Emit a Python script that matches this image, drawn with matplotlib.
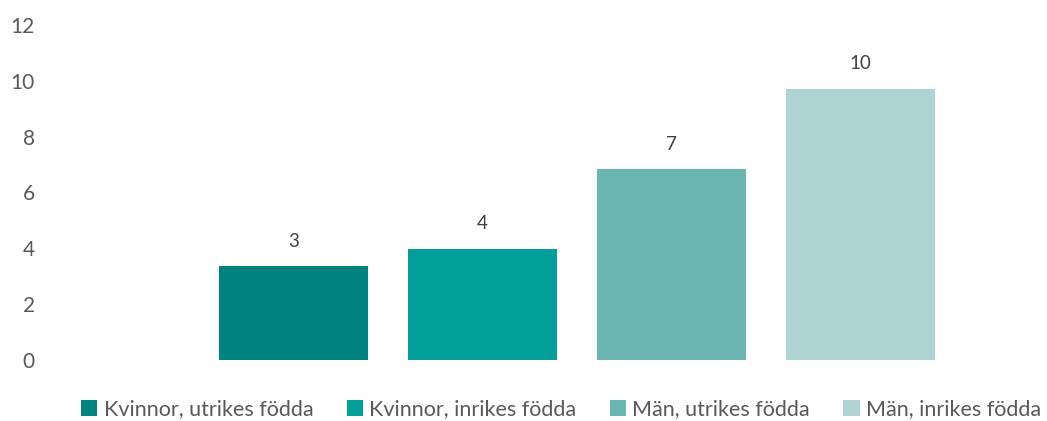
import matplotlib.pyplot as plt

# data
series = ["Kvinnor, utrikes födda", "Kvinnor, inrikes födda",
          "Män, utrikes födda", "Män, inrikes födda"]
values = [3.36, 3.98, 6.83, 9.72]
value_labels = ["3", "4", "7", "10"]
colors = ["#00827F", "#029E9A", "#6BB5B3", "#AED3D3"]
y_ticks = [0, 2, 4, 6, 8, 10, 12]

TEXT = "#595959"
plt.rcParams["font.family"] = ["Lato", "DejaVu Sans"]

fig = plt.figure(figsize=(10.47, 4.21), dpi=100)
ax = fig.add_axes([50 / 1047, 61 / 421, 990 / 1047, 335 / 421])

x = list(range(len(values)))
bars = ax.bar(x, values, width=149 / 189, color=colors, label=series)

for b, lab in zip(bars, value_labels):
    ax.annotate(lab, (b.get_x() + b.get_width() / 2, b.get_height()),
                xytext=(0, 12), textcoords="offset points",
                ha="center", va="bottom", fontsize=13.5, color="#404040")

ax.set_xlim(-1.288, -1.288 + 990 / 189)
ax.set_ylim(0, 12)
ax.set_yticks(y_ticks)
ax.set_xticks([])
ax.tick_params(axis="y", length=0, pad=11, labelsize=15, labelcolor=TEXT)
for s in ax.spines.values():
    s.set_visible(False)

fig.legend(handles=bars, labels=series, loc="center", bbox_to_anchor=(0.536, 0.028),
           ncol=4, frameon=False, fontsize=15.5, labelcolor=TEXT,
           handlelength=0.75, handleheight=0.75, handletextpad=0.3,
           columnspacing=1.55)

fig.savefig("out.png", dpi=100)
